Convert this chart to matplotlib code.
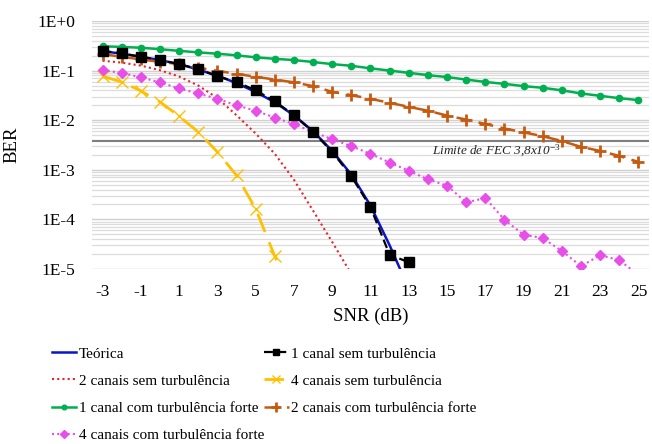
import matplotlib
matplotlib.use("Agg")
import matplotlib.pyplot as plt
from matplotlib.ticker import FixedLocator, LogLocator, NullFormatter
import numpy as np

plt.rcParams['font.family'] = ['Liberation Serif', 'DejaVu Serif']
plt.rcParams['mathtext.fontset'] = 'custom'
plt.rcParams['mathtext.it'] = 'Liberation Serif:italic'
plt.rcParams['mathtext.rm'] = 'Liberation Serif'
plt.rcParams['mathtext.default'] = 'it'

snr = list(range(-3, 26))

teorica = [0.245, 0.22, 0.19, 0.163, 0.135, 0.105, 0.079, 0.056, 0.037, 0.023,
           0.0125, 0.006, 0.0024, 0.0008, 0.00019, 3e-5, 4e-6]
canal1_sem = [0.25, 0.222, 0.19, 0.163, 0.135, 0.107, 0.077, 0.059, 0.040, 0.024,
              0.0126, 0.0058, 0.0023, 0.00074, 0.000177, 1.93e-5, 1.37e-5]
canais2_sem = [0.158, 0.145, 0.126, 0.102, 0.076, 0.050, 0.028, 0.0126, 0.0054,
               0.0021, 6.3e-4, 1.5e-4, 3.5e-5, 7.9e-6]
canais4_sem = [0.077, 0.059, 0.039, 0.0235, 0.012, 0.0058, 0.0023, 7.7e-4,
               1.64e-4, 1.8e-5, 2.5e-6]
canal1_forte = [0.31, 0.30, 0.289, 0.27, 0.25, 0.233, 0.219, 0.203, 0.185, 0.173,
                0.163, 0.149, 0.135, 0.125, 0.111, 0.10, 0.0903, 0.081, 0.074,
                0.066, 0.059, 0.054, 0.0486, 0.045, 0.040, 0.0346, 0.031, 0.0278,
                0.0254]
canais2_forte = [0.215, 0.19, 0.168, 0.15, 0.135, 0.114, 0.099, 0.086, 0.075, 0.066,
                 0.058, 0.0486, 0.0373, 0.032, 0.027, 0.0224, 0.0186, 0.0155,
                 0.0124, 0.0103, 0.0084, 0.0068, 0.0057, 0.00475, 0.0038, 0.0029,
                 0.0024, 0.0019, 0.00144]
canais4_forte = [0.102, 0.090, 0.073, 0.058, 0.0436, 0.0346, 0.027, 0.020, 0.0155,
                 0.0113, 0.0083, 0.0058, 0.00413, 0.003, 0.0021, 0.0014, 0.00096,
                 0.00064, 0.00048, 0.00022, 0.00027, 9.8e-5, 4.9e-5, 4.2e-5,
                 2.3e-5, 1.14e-5, 1.9e-5, 1.5e-5, 7.6e-6]
fec = 3.8e-3
x_ticks = list(range(-3, 26, 2))
y_ticks = [1e0, 1e-1, 1e-2, 1e-3, 1e-4, 1e-5]
y_labels = ['1E+0', '1E-1', '1E-2', '1E-3', '1E-4', '1E-5']

fig = plt.figure(figsize=(6.52, 4.44), dpi=100)
ax = fig.add_axes([92/652, 1-269/444, (649-92)/652, (269-21)/444])

def xs(v):
    return snr[:len(v)]

h_teo, = ax.plot(xs(teorica), teorica, color='#0A14C8', lw=1.8, label='Teórica', zorder=3)
h_c1s, = ax.plot(xs(canal1_sem), canal1_sem, color='black', lw=1.6, ls=(0, (4, 2)),
                 marker='s', ms=6.5, label='1 canal sem turbulência', zorder=4)
h_c2s, = ax.plot(xs(canais2_sem), canais2_sem, color='#E8222A', lw=1.5, ls=(0, (1, 1.5)),
                 label='2 canais sem turbulência', zorder=3)
h_c4s, = ax.plot(xs(canais4_sem), canais4_sem, color='#FFC000', lw=2.0, ls=(0, (7, 4)),
                 marker='x', ms=8, mew=1.0, label='4 canais sem turbulência', zorder=3)
h_f1, = ax.plot(xs(canal1_forte), canal1_forte, color='#00B050', lw=1.8,
                marker='o', ms=4.5, label='1 canal com turbulência forte', zorder=3)
h_f2, = ax.plot(xs(canais2_forte), canais2_forte, color='#C55A11', lw=1.8, ls=(0, (6, 3)),
                marker='+', ms=9, mew=2.0, label='2 canais com turbulência forte', zorder=3)
h_f4, = ax.plot(xs(canais4_forte), canais4_forte, color='#E84FE8', lw=1.5, ls=(0, (1, 1.5)),
                marker='D', ms=5.5, label='4 canais com turbulência forte', zorder=3)

ax.axhline(fec, color='#7F7F7F', lw=1.5, zorder=2)
ax.text(14.2, fec * 0.93, 'Limite de FEC 3,8x10$^{-3}$', style='italic', fontsize=9.5,
        ha='left', va='top', color='#222222')

ax.set_yscale('log')
ax.set_ylim(1e-5, 1)
ax.set_xlim(-3.55, 25.55)
ax.yaxis.set_major_locator(FixedLocator(y_ticks))
ax.set_yticklabels(y_labels)
ax.yaxis.set_minor_locator(LogLocator(base=10, subs=np.arange(2, 10)))
ax.yaxis.set_minor_formatter(NullFormatter())
ax.set_xticks(x_ticks)
ax.set_xticklabels([str(t) for t in x_ticks])
ax.grid(True, which='major', axis='y', color='#D0D0D0', lw=1.0, zorder=0)
ax.grid(True, which='minor', axis='y', color='#DCDCDC', lw=0.9, zorder=0)
ax.set_axisbelow(True)
for s in ax.spines.values():
    s.set_visible(False)
ax.tick_params(axis='both', which='both', length=0, labelsize=12.5)
ax.tick_params(axis='y', pad=12)
ax.tick_params(axis='x', pad=11)
ax.set_xlabel('SNR (dB)', fontsize=13.5, labelpad=5)
ax.set_ylabel('BER', fontsize=13.5, labelpad=12)

handles = [h_teo, h_c2s, h_f1, h_f4, h_c1s, h_c4s, h_f2]
fig.legend(handles=handles, labels=[h.get_label() for h in handles], ncol=2,
           loc='upper left', bbox_to_anchor=(52/652, 1-347/444), frameon=False,
           fontsize=11, handlelength=1.6, handletextpad=0.15, columnspacing=0.0,
           labelspacing=0.88, borderpad=0, borderaxespad=0, markerscale=0.75)

fig.savefig('out.png', dpi=100)
